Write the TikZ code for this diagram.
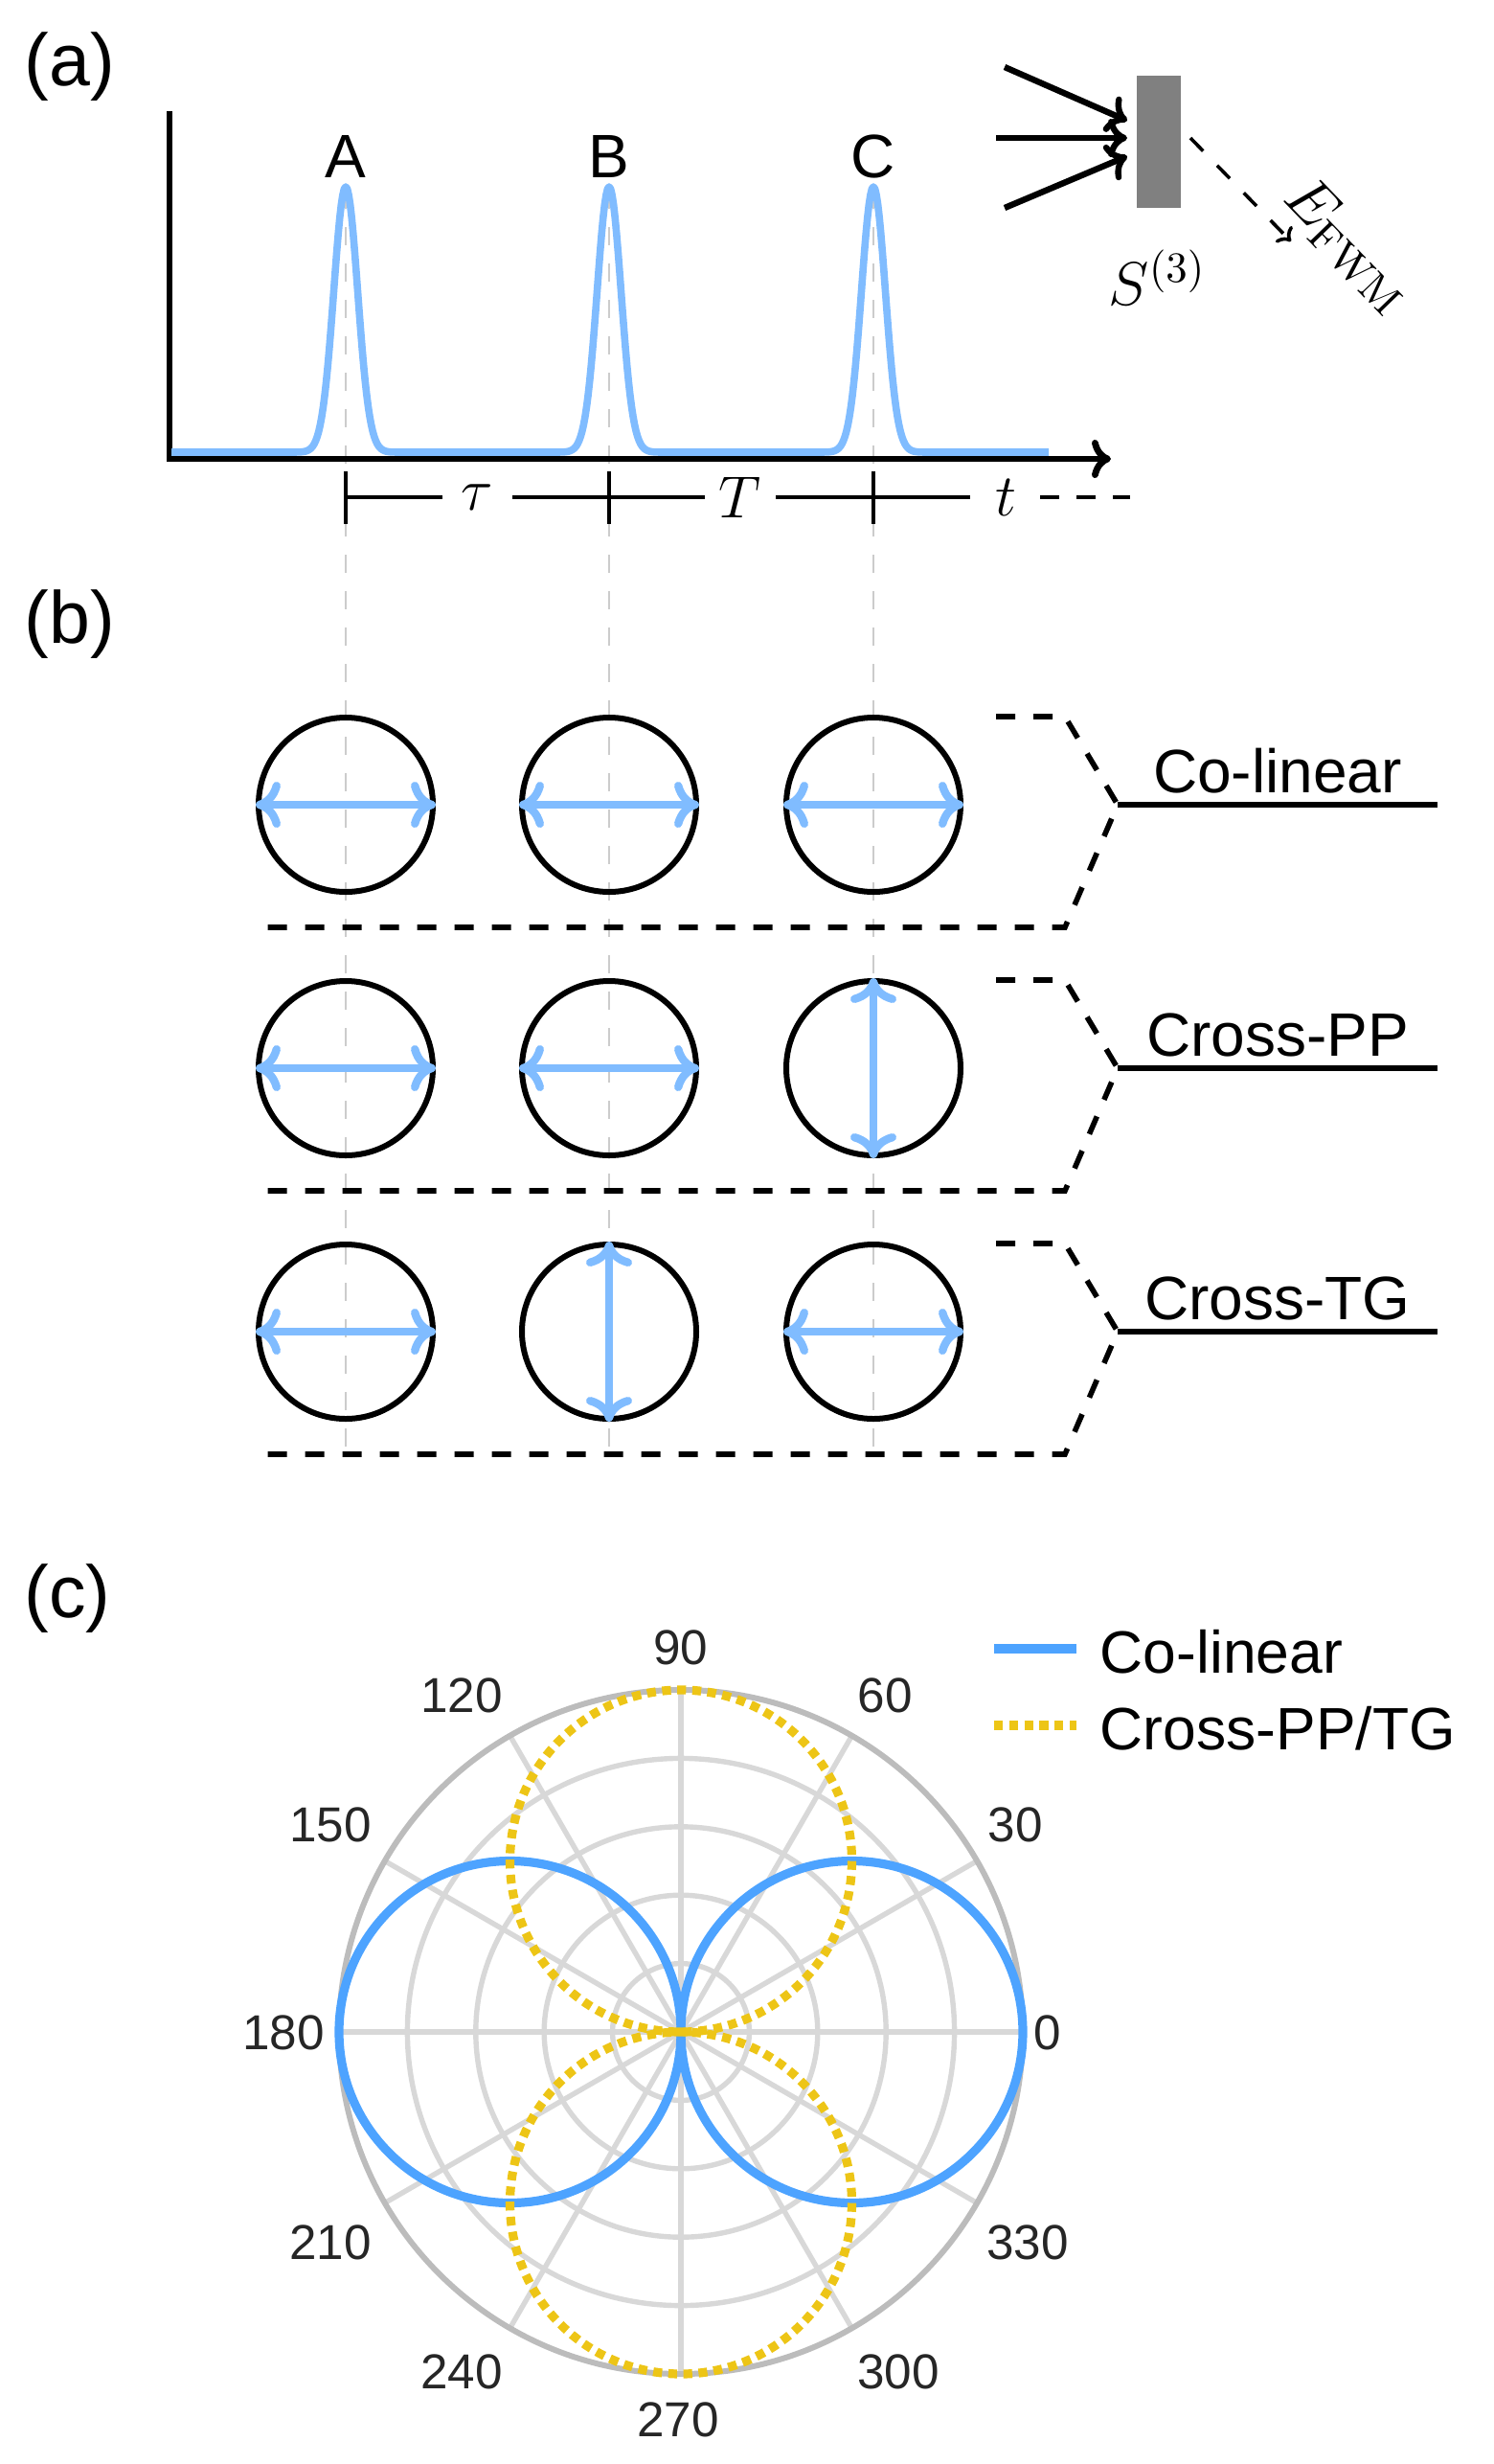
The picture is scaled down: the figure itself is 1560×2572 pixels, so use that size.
\RequirePackage{fix-cm}
\documentclass[tikz,border=0pt]{standalone}
\usepackage[no-math]{fontspec}
\setmainfont{Liberation Sans}
\usetikzlibrary{arrows.meta}
\definecolor{pulseblue}{RGB}{128,188,255}
\definecolor{polblue}{RGB}{77,163,255}
\definecolor{polyellow}{RGB}{237,197,22}
\definecolor{gridgray}{RGB}{216,216,216}
\definecolor{outergray}{RGB}{188,188,188}
\definecolor{guidegray}{RGB}{204,204,204}
\definecolor{ticklab}{RGB}{38,38,38}
\definecolor{mirgray}{RGB}{128,128,128}
\newcommand\fsz[1]{\fontsize{#1}{#1}\selectfont}
\begin{document}
\begin{tikzpicture}[x=0.25pt,y=-0.25pt,
  panellab/.style={font=\fsz{19.25}, inner sep=0, anchor=base west},
  peaklab/.style={font=\fsz{16}, inner sep=0, anchor=base},
  mathlab/.style={font=\fsz{15.5}, inner sep=0},
  rowlab/.style={font=\fsz{16}, inner sep=0, anchor=base},
  leglab/.style={font=\fsz{15.6}, inner sep=0, anchor=base west},
  ticklabel/.style={font=\fsz{12.8}, text=ticklab, inner sep=0},
  guide/.style={guidegray, line width=0.65pt, dash pattern=on 4.75pt off 4.75pt},
  pulse/.style={pulseblue, line width=1.9pt, line join=round},
  axisline/.style={line width=1.7pt, >={Computer Modern Rightarrow[length=5pt,width=10pt]}, ->},
  timeline/.style={line width=0.8pt},
  pol/.style={circle, draw, line width=1.5pt, minimum size=45.5pt, inner sep=0},
  parr/.style={pulseblue, line width=2.1pt, >={Computer Modern Rightarrow[length=6.5pt,width=12pt]}, <->},
  inarr/.style={line width=1.6pt, >={Computer Modern Rightarrow[length=5pt,width=10pt]}, ->},
  outarr/.style={line width=0.9pt, dash pattern=on 4.75pt off 5.25pt, >={Computer Modern Rightarrow[length=3pt,width=6pt]}, ->},
  bracket/.style={line width=1.4pt, dash pattern=on 5pt off 4.75pt, line join=miter},
  labline/.style={line width=1.4pt},
  gridc/.style={gridgray, line width=1.35pt},
  outerc/.style={outergray, line width=1.5pt},
  polb/.style={polblue, line width=2.3pt},
  poly/.style={polyellow, line width=2.3pt, dash pattern=on 2.3pt off 1.65pt},
]
\useasboundingbox (0,0) rectangle (1560,2572);

% ---------- panel labels
\node[panellab] (pa) at (25,89) {(a)};
\node[panellab] (pb) at (25,671) {(b)};
\node[panellab] (pc) at (25,1688) {(c)};

% ---------- guide lines
\foreach \gx/\gn in {361/A,636/B,912/C}{
  \coordinate (gtop\gn) at (\gx,199);
  \coordinate (gbot\gn) at (\gx,1518);
  \draw[guide] (gtop\gn) -- (gbot\gn);
}

% ---------- axes
\coordinate (ytop) at (177,116);
\coordinate (orig) at (177,479);
\coordinate (xend) at (1160,479);
\draw[axisline] (ytop) -- (orig) -- (xend);

% ---------- pulses
\coordinate (pstart) at (179,472);
\coordinate (pend) at (1095,472);
\draw[pulse] (pstart)
  -- plot[domain=-5:5, samples=81] ({361+12.5*\x},{472-277*exp(-0.5*\x*\x)})
  -- plot[domain=-5:5, samples=81] ({636+12.5*\x},{472-277*exp(-0.5*\x*\x)})
  -- plot[domain=-5:5, samples=81] ({912+12.5*\x},{472-277*exp(-0.5*\x*\x)})
  -- (pend);
\node[peaklab] (labA) at (361,185) {A};
\node[peaklab] (labB) at (636,185) {B};
\node[peaklab] (labC) at (912,185) {C};

% ---------- time intervals
\foreach \tx/\tn in {361/1,636/2,912/3}{
  \coordinate (tk\tn a) at (\tx,492);
  \coordinate (tk\tn b) at (\tx,547);
  \draw[timeline] (tk\tn a) -- (tk\tn b);
}
\node[mathlab] (tau) at (498,519) {$\tau$};
\node[mathlab] (TT) at (773,519) {$T$};
\node[mathlab] (tt) at (1050,519) {$t$};
\coordinate (s1a) at (361,519); \coordinate (s1b) at (462,519);
\coordinate (s2a) at (535,519); \coordinate (s2b) at (736,519);
\coordinate (s3a) at (810,519); \coordinate (s3b) at (1013,519);
\coordinate (s4a) at (1086,519); \coordinate (s4b) at (1180,519);
\draw[timeline] (s1a) -- (s1b);
\draw[timeline] (s2a) -- (s2b);
\draw[timeline] (s3a) -- (s3b);
\draw[timeline, dash pattern=on 5pt off 4.5pt] (s4a) -- (s4b);

% ---------- sample / four-wave mixing
\node[fill=mirgray, minimum width=11.5pt, minimum height=34.5pt, inner sep=0] (mir) at (1210,148) {};
\coordinate (in1) at (1049,70);  \coordinate (hit1) at (1177,126);
\coordinate (in2) at (1040,144); \coordinate (hit2) at (1177,144);
\coordinate (in3) at (1049,217); \coordinate (hit3) at (1177,163);
\draw[inarr] (in1) -- (hit1);
\draw[inarr] (in2) -- (hit2);
\draw[inarr] (in3) -- (hit3);
\coordinate (out1) at (1243,144);
\coordinate (out2) at (1348,252);
\draw[outarr] (out1) -- (out2);
\node[font=\fsz{16}, inner sep=0, rotate=-46] (efwm) at (1408,256) {$E_{\mathrm{FWM}}$};
\node[font=\fsz{16}, inner sep=0, anchor=base west] (s3) at (1157,318) {$S^{(3)}$};

% ---------- (b) polarisation rows
\foreach \cy/\rn/\rl in {840/1/Co-linear,1115/2/Cross-PP,1390/3/Cross-TG}{
  \node[pol] (c\rn a) at (361,\cy) {};
  \node[pol] (c\rn b) at (636,\cy) {};
  \node[pol] (c\rn c) at (912,\cy) {};
  \coordinate (bk\rn a) at (1040,\cy-92);
  \coordinate (bk\rn b) at (1112,\cy-92);
  \coordinate (bk\rn p) at (1167,\cy);
  \coordinate (bk\rn c) at (1112,\cy+128);
  \coordinate (bk\rn d) at (267,\cy+128);
  \coordinate (ln\rn) at (1501,\cy);
  \draw[bracket] (bk\rn a) -- (bk\rn b) -- (bk\rn p) -- (bk\rn c) -- (bk\rn d);
  \draw[labline] (bk\rn p) -- (ln\rn);
  \node[rowlab] (rl\rn) at (1334,\cy-13) {\rl};
}
% arrows inside circles
\draw[parr] (c1a.west) -- (c1a.east);
\draw[parr] (c1b.west) -- (c1b.east);
\draw[parr] (c1c.west) -- (c1c.east);
\draw[parr] (c2a.west) -- (c2a.east);
\draw[parr] (c2b.west) -- (c2b.east);
\draw[parr] (c2c.north) -- (c2c.south);
\draw[parr] (c3a.west) -- (c3a.east);
\draw[parr] (c3b.north) -- (c3b.south);
\draw[parr] (c3c.west) -- (c3c.east);

% ---------- (c) polar plot
\coordinate (pcen) at (711,2121);
\foreach \r in {71.4,142.8,214.2,285.6}{
  \draw[gridc] (pcen) circle[radius=\r];
}
\foreach \a in {0,30,...,330}{
  \draw[gridc] (pcen) -- ++(\a:357);
}
\draw[outerc] (pcen) circle[radius=357];
\coordinate (bl1) at (889.5,2121);
\coordinate (bl2) at (532.5,2121);
\coordinate (yl1) at (711,1942.5);
\coordinate (yl2) at (711,2299.5);
\draw[polb] (bl1) circle[radius=178.5];
\draw[polb] (bl2) circle[radius=178.5];
\draw[poly] (yl1) circle[radius=178.5];
\draw[poly] (yl2) circle[radius=178.5];
\foreach \lab/\lx/\ly in {0/1094/2122,30/1060/1905,60/924/1770,90/711/1720,120/482/1770,150/345/1905,180/296/2122,210/345/2341,240/482/2476,270/708/2526,300/938/2476,330/1073/2341}{
  \node[ticklabel] (tl\lab) at (\lx,\ly) {\lab};
}
% legend
\coordinate (lgb1) at (1038,1721); \coordinate (lgb2) at (1124,1721);
\coordinate (lgy1) at (1038,1801); \coordinate (lgy2) at (1124,1801);
\draw[polb] (lgb1) -- (lgb2);
\draw[poly] (lgy1) -- (lgy2);
\node[leglab] (lg1) at (1148,1746) {Co-linear};
\node[leglab] (lg2) at (1148,1826) {Cross-PP/TG};
\end{tikzpicture}
\end{document}
